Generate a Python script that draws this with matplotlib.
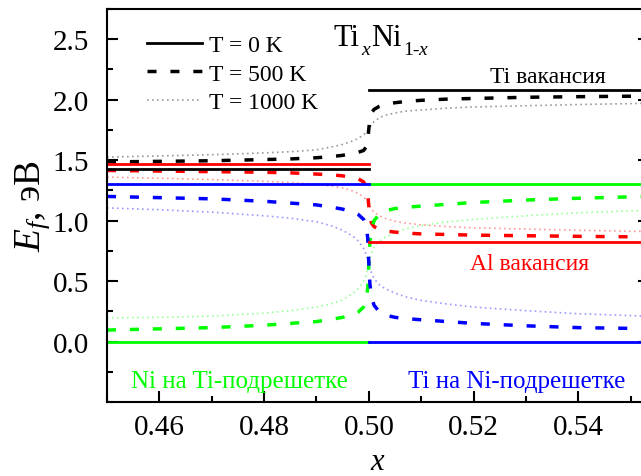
import matplotlib
matplotlib.use('Agg')
from matplotlib import pyplot as plt
from matplotlib.ticker import MultipleLocator, FixedLocator

plt.rcParams['font.family'] = ['Liberation Serif', 'DejaVu Serif']
plt.rcParams['mathtext.fontset'] = 'custom'
plt.rcParams['mathtext.rm'] = 'Liberation Serif'
plt.rcParams['mathtext.it'] = 'Liberation Serif:italic'

# composition grid for the finite-temperature curves
x = [0.450, 0.460, 0.470, 0.480, 0.485, 0.490, 0.493, 0.495, 0.497, 0.498, 0.499,
     0.4995, 0.4998, 0.5000, 0.5002, 0.5005, 0.501, 0.502, 0.503, 0.505, 0.507,
     0.510, 0.515, 0.520, 0.530, 0.540, 0.553]

# T = 0 K: step values left / right of x = 0.5
x_left = [0.45, 0.50]
x_right = [0.50, 0.553]
ti_vac_0 = [1.43, 2.08]
al_vac_0 = [1.465, 0.82]
ni_ti_0 = [0.0, 1.30]
ti_ni_0 = [1.30, 0.0]

# T = 500 K
ti_vac_500 = [1.485, 1.49, 1.495, 1.505, 1.51, 1.52, 1.53, 1.54, 1.555, 1.565, 1.58,
              1.61, 1.67, 1.76, 1.84, 1.89, 1.92, 1.945, 1.96, 1.975, 1.985,
              1.995, 2.005, 2.01, 2.02, 2.025, 2.03]
al_vac_500 = [1.415, 1.41, 1.405, 1.40, 1.395, 1.385, 1.378, 1.37, 1.355, 1.345, 1.32,
              1.28, 1.21, 1.12, 1.03, 0.98, 0.95, 0.93, 0.915, 0.905, 0.897,
              0.89, 0.885, 0.88, 0.875, 0.87, 0.865]
ni_ti_500 = [0.095, 0.105, 0.115, 0.135, 0.15, 0.165, 0.185, 0.20, 0.225, 0.245, 0.285,
             0.34, 0.45, 0.65, 0.82, 0.93, 1.00, 1.055, 1.08, 1.10, 1.11,
             1.12, 1.135, 1.15, 1.17, 1.185, 1.20]
ti_ni_500 = [1.20, 1.19, 1.18, 1.16, 1.145, 1.13, 1.11, 1.095, 1.07, 1.05, 1.01,
             0.96, 0.85, 0.65, 0.48, 0.37, 0.30, 0.245, 0.22, 0.20, 0.19,
             0.18, 0.165, 0.15, 0.13, 0.115, 0.107]

# T = 1000 K
ti_vac_1000 = [1.525, 1.535, 1.545, 1.56, 1.57, 1.585, 1.61, 1.63, 1.66, 1.68, 1.71,
               1.73, 1.745, 1.76, 1.775, 1.79, 1.82, 1.85, 1.87, 1.89, 1.905,
               1.915, 1.93, 1.94, 1.95, 1.96, 1.97]
al_vac_1000 = [1.36, 1.35, 1.34, 1.325, 1.315, 1.30, 1.285, 1.27, 1.245, 1.225, 1.195,
               1.17, 1.15, 1.135, 1.115, 1.095, 1.07, 1.04, 1.02, 0.995, 0.98,
               0.965, 0.95, 0.94, 0.93, 0.92, 0.91]
ni_ti_1000 = [0.196, 0.20, 0.21, 0.235, 0.255, 0.285, 0.315, 0.345, 0.40, 0.44, 0.50,
              0.55, 0.60, 0.65, 0.69, 0.73, 0.78, 0.83, 0.86, 0.90, 0.93,
              0.96, 0.99, 1.01, 1.04, 1.065, 1.085]
ti_ni_1000 = [1.105, 1.09, 1.07, 1.04, 1.02, 0.99, 0.955, 0.92, 0.87, 0.83, 0.77,
              0.72, 0.68, 0.65, 0.61, 0.57, 0.52, 0.47, 0.44, 0.40, 0.37,
              0.34, 0.31, 0.285, 0.255, 0.23, 0.21]

temps = ['T = 0 K', 'T = 500 K', 'T = 1000 K']
y_ticks = [0.0, 0.5, 1.0, 1.5, 2.0, 2.5]

fig = plt.figure(figsize=(6.41, 4.77), dpi=100)
ax = fig.add_axes([107 / 641, 74 / 477, 542 / 641, 393 / 477])

dash = (0, (2.6, 4.0))
dot = (0, (1.0, 2.0))

# 1000 K, faint dotted
ax.plot(x, ti_vac_1000, color='#9a9a9a', lw=1.2, ls=dot)
ax.plot(x, al_vac_1000, color='#ff9a9a', lw=1.2, ls=dot)
ax.plot(x, ni_ti_1000, color='#9aff9a', lw=1.2, ls=dot)
ax.plot(x, ti_ni_1000, color='#9a9aff', lw=1.2, ls=dot)

# 500 K, dashed
ax.plot(x, ti_vac_500, color='black', lw=2.5, ls=dash)
ax.plot(x, al_vac_500, color='red', lw=2.5, ls=dash)
ax.plot(x, ni_ti_500, color='#00ff00', lw=2.5, ls=dash)
ax.plot(x, ti_ni_500, color='blue', lw=2.5, ls=dash)

# 0 K, solid steps
for vals, c in [(ti_vac_0, 'black'), (al_vac_0, 'red'),
                (ni_ti_0, '#00ff00'), (ti_ni_0, 'blue')]:
    ax.plot(x_left, [vals[0]] * 2, color=c, lw=2)
    ax.plot(x_right, [vals[1]] * 2, color=c, lw=2)

# legend handles in black / gray
h0, = ax.plot([], [], color='black', lw=2)
h1, = ax.plot([], [], color='black', lw=2.5, ls=dash)
h2, = ax.plot([], [], color='#9a9a9a', lw=1.2, ls=dot)
ax.legend([h0, h1, h2], temps, loc='upper left', bbox_to_anchor=(0.044, 0.977),
          frameon=False, fontsize=17, handlelength=2.3, handletextpad=0.3,
          labelspacing=0.3, borderaxespad=0.3)

# formula Ti_x Ni_(1-x), subscripts set low as separate pieces
ax.text(0.4932, 2.455, 'Ti', fontsize=22, ha='left', va='baseline')
ax.text(0.4985, 2.38, 'x', fontsize=14, style='italic', ha='left', va='baseline')
ax.text(0.5004, 2.455, 'Ni', fontsize=22, ha='left', va='baseline')
ax.text(0.5065, 2.38, '1-', fontsize=14, ha='left', va='baseline')
ax.text(0.5094, 2.38, 'x', fontsize=14, style='italic', ha='left', va='baseline')

ax.text(0.5341, 2.19, 'Ti вакансия', fontsize=17, ha='center', va='center', color='black')
ax.text(0.5307, 0.645, 'Al вакансия', fontsize=17, ha='center', va='center', color='red')
ax.text(0.4753, -0.33, 'Ni на Ti-подрешетке', fontsize=18, ha='center', va='center', color='#00ff00')
ax.text(0.5282, -0.33, 'Ti на Ni-подрешетке', fontsize=18, ha='center', va='center', color='blue')

ax.set_xlim(0.45, 0.5535)
ax.set_ylim(-0.5, 2.75)
ax.xaxis.set_major_locator(MultipleLocator(0.02))
ax.xaxis.set_minor_locator(MultipleLocator(0.01))
ax.yaxis.set_major_locator(FixedLocator(y_ticks))
ax.yaxis.set_minor_locator(MultipleLocator(0.25))
ax.xaxis.set_major_formatter(plt.FormatStrFormatter('%.2f'))
ax.yaxis.set_major_formatter(plt.FormatStrFormatter('%.1f'))
ax.tick_params(which='both', direction='in', width=1.5, labelsize=21,
               left=True, right=True, bottom=True, top=False)
ax.tick_params(which='major', length=8)
ax.tick_params(which='minor', length=4.5)
ax.tick_params(axis='x', pad=9)
ax.tick_params(axis='y', pad=13)
for s in ax.spines.values():
    s.set_linewidth(1.5)

ax.set_xlabel(r'$x$', fontsize=22, labelpad=5)
ax.set_ylabel(r'$E_f$, эВ', fontsize=27, labelpad=0)

fig.savefig('out.png', dpi=100)
